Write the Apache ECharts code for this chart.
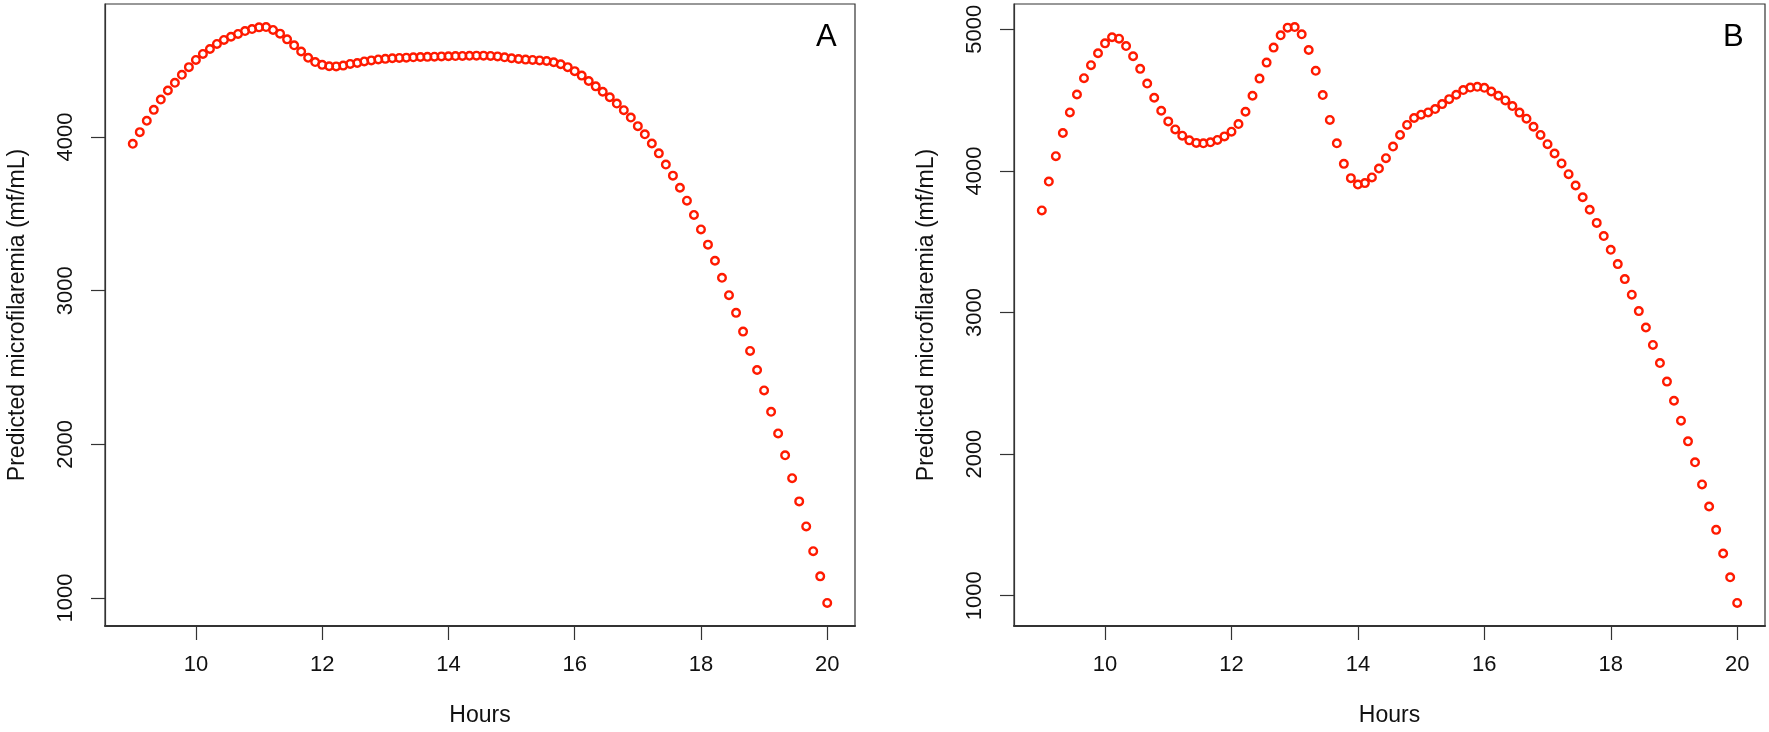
<!DOCTYPE html>
<html>
<head>
<meta charset="utf-8">
<script src="https://cdn.jsdelivr.net/npm/echarts@6/dist/echarts.min.js"></script>
<style>
  html, body { margin: 0; padding: 0; background: #fff; }
  #chart { width: 1769px; height: 732px; }
</style>
</head>
<body>
<div id="chart"></div>
<script>
// Sampling times (hours): 100 points from 9 to 20
var hours = [
  9.000, 9.111, 9.222, 9.333, 9.444, 9.556, 9.667, 9.778, 9.889,
  10.000, 10.111, 10.222, 10.333, 10.444, 10.556, 10.667, 10.778, 10.889,
  11.000, 11.111, 11.222, 11.333, 11.444, 11.556, 11.667, 11.778, 11.889,
  12.000, 12.111, 12.222, 12.333, 12.444, 12.556, 12.667, 12.778, 12.889,
  13.000, 13.111, 13.222, 13.333, 13.444, 13.556, 13.667, 13.778, 13.889,
  14.000, 14.111, 14.222, 14.333, 14.444, 14.556, 14.667, 14.778, 14.889,
  15.000, 15.111, 15.222, 15.333, 15.444, 15.556, 15.667, 15.778, 15.889,
  16.000, 16.111, 16.222, 16.333, 16.444, 16.556, 16.667, 16.778, 16.889,
  17.000, 17.111, 17.222, 17.333, 17.444, 17.556, 17.667, 17.778, 17.889,
  18.000, 18.111, 18.222, 18.333, 18.444, 18.556, 18.667, 18.778, 18.889,
  19.000, 19.111, 19.222, 19.333, 19.444, 19.556, 19.667, 19.778, 19.889,
  20.000
];

// Panel A: predicted microfilaremia (mf/mL)
var valuesA = [
  3956, 4032, 4106, 4177, 4244, 4303, 4353, 4405, 4455, 4502,
  4541, 4573, 4606, 4632, 4653, 4671, 4690, 4703, 4714, 4716,
  4697, 4673, 4636, 4597, 4557, 4516, 4488, 4470, 4461, 4460,
  4465, 4476, 4482, 4492, 4499, 4505, 4509, 4513, 4515, 4517,
  4519, 4521, 4522, 4523, 4525, 4526, 4527, 4528, 4529, 4530,
  4530, 4528, 4525, 4519, 4513, 4508, 4504, 4502, 4499, 4495,
  4487, 4474, 4455, 4429, 4400, 4365, 4330, 4295, 4259, 4218,
  4175, 4127, 4071, 4018, 3958, 3894, 3821, 3749, 3670, 3586,
  3493, 3399, 3300, 3195, 3084, 2971, 2856, 2734, 2608, 2484,
  2351, 2212, 2071, 1929, 1780, 1629, 1466, 1305, 1141, 968
];

// Panel B: predicted microfilaremia (mf/mL)
var valuesB = [
  3721, 3925, 4104, 4268, 4413, 4540, 4655, 4747, 4831, 4901,
  4944, 4934, 4882, 4810, 4721, 4617, 4517, 4425, 4350, 4293,
  4249, 4216, 4198, 4195, 4202, 4219, 4244, 4277, 4331, 4418,
  4531, 4652, 4765, 4871, 4958, 5012, 5016, 4965, 4854, 4707,
  4536, 4360, 4195, 4050, 3949, 3904, 3914, 3954, 4017, 4090,
  4172, 4254, 4325, 4374, 4397, 4413, 4437, 4472, 4507, 4538,
  4571, 4589, 4594, 4587, 4561, 4531, 4498, 4458, 4412, 4369,
  4312, 4254, 4189, 4123, 4053, 3977, 3897, 3814, 3726, 3633,
  3540, 3443, 3342, 3236, 3126, 3010, 2894, 2771, 2643, 2512,
  2377, 2236, 2090, 1942, 1786, 1630, 1465, 1298, 1130, 949
];

var xTicks = [10, 12, 14, 16, 18, 20];
var yTicksA = [1000, 2000, 3000, 4000];
var yTicksB = [1000, 2000, 3000, 4000, 5000];
var xLabel = 'Hours';
var yLabel = 'Predicted microfilaremia (mf/mL)';
var panelLabels = ['A', 'B'];

function pairs(xs, ys) {
  var out = [];
  for (var i = 0; i < ys.length; i++) out.push([xs[i], ys[i]]);
  return out;
}
function plain(v) { return String(v); }

var FONT = 'Liberation Sans, Arial, Helvetica, sans-serif';
var AXIS_COLOR = '#333';
var RED = '#ff1a00';

function makeX(gridIndex) {
  return {
    type: 'value', gridIndex: gridIndex, min: 8.56, max: 20.44,
    name: xLabel, nameLocation: 'middle', nameGap: 78,
    nameTextStyle: { fontFamily: FONT, fontSize: 23, color: '#111' },
    axisLine: { show: true, onZero: false, lineStyle: { color: AXIS_COLOR, width: 2 } },
    axisTick: { show: true, inside: false, length: 14, customValues: xTicks, lineStyle: { color: AXIS_COLOR, width: 1.2 } },
    axisLabel: { show: true, customValues: xTicks, formatter: plain, margin: 28, fontFamily: FONT, fontSize: 22, color: '#111' },
    splitLine: { show: false }
  };
}
function makeY(gridIndex, min, max, ticks) {
  return {
    type: 'value', gridIndex: gridIndex, min: min, max: max,
    name: yLabel, nameLocation: 'middle', nameGap: 76, nameRotate: 90,
    nameTextStyle: { fontFamily: FONT, fontSize: 23, color: '#111' },
    axisLine: { show: true, onZero: false, lineStyle: { color: AXIS_COLOR, width: 1.2 } },
    axisTick: { show: true, inside: false, length: 14, customValues: ticks, lineStyle: { color: AXIS_COLOR, width: 1.2 } },
    axisLabel: { show: true, customValues: ticks, formatter: plain, rotate: 90, margin: 28, fontFamily: FONT, fontSize: 22, color: '#111' },
    splitLine: { show: false }
  };
}
function makeSeries(idx, ys) {
  return {
    type: 'scatter', xAxisIndex: idx, yAxisIndex: idx,
    data: pairs(hours, ys),
    symbol: 'circle', symbolSize: 7.6,
    itemStyle: { color: 'rgba(0,0,0,0)', borderColor: RED, borderWidth: 2.4, opacity: 1 },
    silent: true
  };
}

var chart = echarts.init(document.getElementById('chart'), null, { renderer: 'canvas' });
chart.setOption({
  animation: false,
  backgroundColor: '#ffffff',
  grid: [
    { left: 105, top: 4, width: 750, height: 624, show: true, borderColor: AXIS_COLOR, borderWidth: 1.2, containLabel: false },
    { left: 1014, top: 4, width: 751, height: 624, show: true, borderColor: AXIS_COLOR, borderWidth: 1.2, containLabel: false }
  ],
  xAxis: [makeX(0), makeX(1)],
  yAxis: [makeY(0, 818, 4866, yTicksA), makeY(1, 786, 5179, yTicksB)],
  series: [makeSeries(0, valuesA), makeSeries(1, valuesB)],
  graphic: [
    { type: 'text', left: 816, top: 22, style: { text: panelLabels[0], fontFamily: FONT, fontSize: 31, fill: '#000' } },
    { type: 'text', left: 1723, top: 22, style: { text: panelLabels[1], fontFamily: FONT, fontSize: 31, fill: '#000' } }
  ]
});
</script>
</body>
</html>
